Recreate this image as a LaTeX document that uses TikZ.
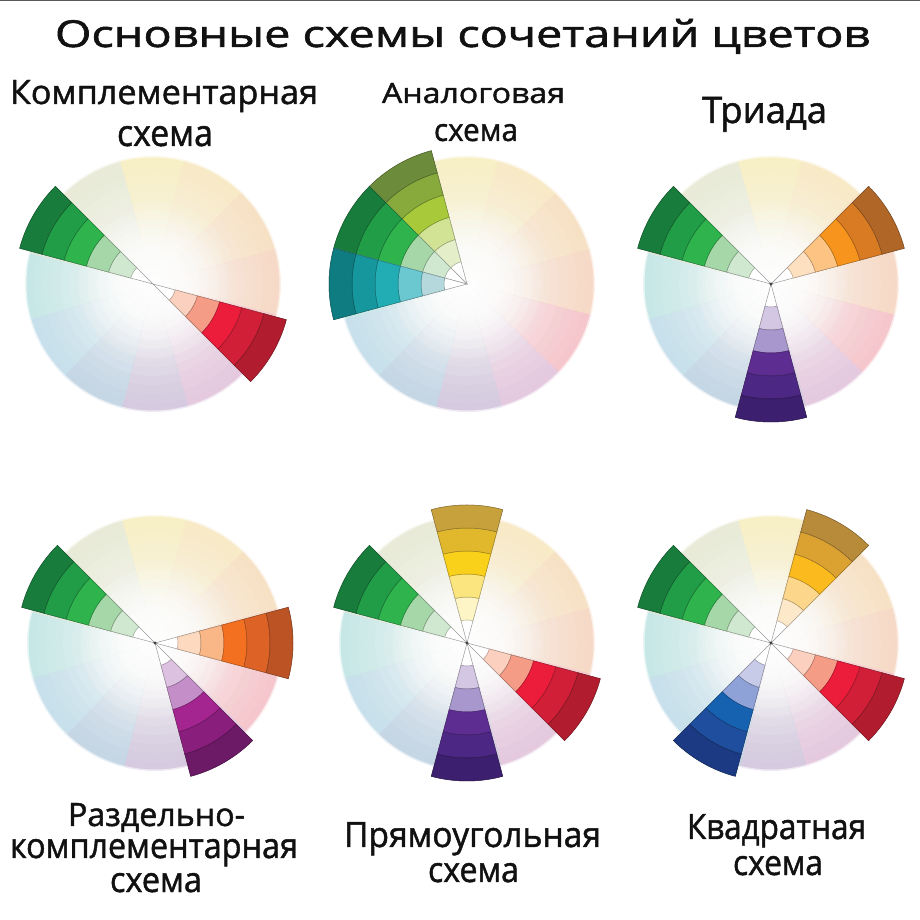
\documentclass[tikz,border=0pt]{standalone}
\usepackage{fontspec}
\setmainfont[FakeBold=1.4]{Open Sans}
\usepackage{graphicx}
\usetikzlibrary{fadings}
\tikzfading[name=glow, inner color=transparent!0, outer color=transparent!100]
% background hues
\definecolor{bgb}{HTML}{F7F7F5}
\definecolor{byel}{HTML}{F9D21C}
\definecolor{byor}{HTML}{FBBB1E}
\definecolor{bora}{HTML}{F7941D}
\definecolor{breo}{HTML}{F26F24}
\definecolor{bred}{HTML}{EE1C3A}
\definecolor{bmag}{HTML}{A3248F}
\definecolor{bvio}{HTML}{5B2D91}
\definecolor{bblu}{HTML}{1560AE}
\definecolor{bcya}{HTML}{1B8FC7}
\definecolor{btea}{HTML}{1FB0B4}
\definecolor{bgrn}{HTML}{7FAE7F}
\definecolor{bygr}{HTML}{B5C070}
% wedge palettes (inner -> outer)
\definecolor{grna}{HTML}{CFE8CF}\definecolor{grnb}{HTML}{A6D7A8}\definecolor{grnc}{HTML}{2FB34C}\definecolor{grnd}{HTML}{219C47}\definecolor{grne}{HTML}{187C3C}
\definecolor{reda}{HTML}{FBD0BF}\definecolor{redb}{HTML}{F59C87}\definecolor{redc}{HTML}{EC1C3B}\definecolor{redd}{HTML}{D11F37}\definecolor{rede}{HTML}{B11D2E}
\definecolor{ygra}{HTML}{E4EEC9}\definecolor{ygrb}{HTML}{D3E396}\definecolor{ygrc}{HTML}{A8C93A}\definecolor{ygrd}{HTML}{88A93B}\definecolor{ygre}{HTML}{6C8B3B}
\definecolor{teaa}{HTML}{B4D8DC}\definecolor{teab}{HTML}{6BC8D0}\definecolor{teac}{HTML}{21ADB3}\definecolor{tead}{HTML}{16969D}\definecolor{teae}{HTML}{0E7C80}
\definecolor{oraa}{HTML}{FDE0C0}\definecolor{orab}{HTML}{FCC383}\definecolor{orac}{HTML}{F7941D}\definecolor{orad}{HTML}{D87B23}\definecolor{orae}{HTML}{B06627}
\definecolor{vioa}{HTML}{D3C7E4}\definecolor{viob}{HTML}{A797CC}\definecolor{vioc}{HTML}{5E2D92}\definecolor{viod}{HTML}{4D2784}\definecolor{vioe}{HTML}{3D1F6F}
\definecolor{reoa}{HTML}{FCD9BF}\definecolor{reob}{HTML}{F9B787}\definecolor{reoc}{HTML}{F47021}\definecolor{reod}{HTML}{DC6226}\definecolor{reoe}{HTML}{BB5324}
\definecolor{maga}{HTML}{DCC2E0}\definecolor{magb}{HTML}{C48EC8}\definecolor{magc}{HTML}{A4258F}\definecolor{magd}{HTML}{8A1E7D}\definecolor{mage}{HTML}{6C1966}
\definecolor{yela}{HTML}{FDF5C6}\definecolor{yelb}{HTML}{FBE57F}\definecolor{yelc}{HTML}{F9D11A}\definecolor{yeld}{HTML}{E1B82C}\definecolor{yele}{HTML}{C7A23C}
\definecolor{yora}{HTML}{FDE9C9}\definecolor{yorb}{HTML}{FCD68A}\definecolor{yorc}{HTML}{FBBB1E}\definecolor{yord}{HTML}{DBA232}\definecolor{yore}{HTML}{B78B3A}
\definecolor{blua}{HTML}{C8CBE7}\definecolor{blub}{HTML}{8EA2D8}\definecolor{bluc}{HTML}{1762B0}\definecolor{blud}{HTML}{1E4E9D}\definecolor{blue}{HTML}{1B3A83}
\definecolor{ink}{HTML}{111111}

\newcommand\cwband[4]{%
  \filldraw[fill=#4, draw=#4!70!black, line width=0.5]
    (#1:#2) arc[start angle=#1, end angle=#1+30, radius=#2]
    -- (#1+30:#3) arc[start angle=#1+30, end angle=#1, radius=#3] -- cycle;}
\newcommand\colorwedge[2]{%
  \filldraw[fill=white, draw=black!40, line width=0.5]
    (0,0) -- (#1:138) arc[start angle=#1, end angle=#1+30, radius=138] -- cycle;
  \cwband{#1}{23}{46}{#2a}\cwband{#1}{46}{69}{#2b}\cwband{#1}{69}{92}{#2c}%
  \cwband{#1}{92}{115}{#2d}\cwband{#1}{115}{138}{#2e}}
\newcommand\bgwheel{%
  \foreach \ang/\col in {90/byel,60/byor,30/bora,0/breo,-30/bred,-60/bmag,-90/bvio,-120/bblu,-150/bcya,180/btea,150/bgrn,120/bygr}{%
    \foreach \r/\t in {128/22,119/21,110/19.5,101/18,92/16,83/14,74/11.5,65/9,56/6.5,47/4,38/2}{%
      \fill[\col!\t!bgb] (0,0) -- (\ang-15:\r) arc[start angle=\ang-15, end angle=\ang+16, radius=\r] -- cycle;}}
  \fill[white, path fading=glow] (0,0) circle (80);
  \draw[white, line width=3, opacity=0.6] (0,0) circle (128);}
\newcommand\apexdot{\fill[black!75] (0,0) circle (1.6);}

\begin{document}
\begin{tikzpicture}[x=1pt,y=1pt,
  lbl/.style={anchor=base, inner sep=0pt, text=ink}]
\useasboundingbox (0,0) rectangle (920,920);
\fill[white] (0,0) rectangle (920,920);
\fill[black!65] (0,918.6) rectangle (920,920);

\coordinate (w1) at (153,636);
\coordinate (w2) at (467,636);
\coordinate (w3) at (771,636);
\coordinate (w4) at (155,277);
\coordinate (w5) at (467,277);
\coordinate (w6) at (771,277);

% 1 complementary
\begin{scope}[shift={(w1)}]
  \bgwheel
  \colorwedge{135}{grn}\colorwedge{315}{red}
\end{scope}
% 2 analogous
\begin{scope}[shift={(w2)}]
  \bgwheel
  \colorwedge{105}{ygr}\colorwedge{135}{grn}\colorwedge{165}{tea}
\end{scope}
% 3 triad
\begin{scope}[shift={(w3)}]
  \bgwheel
  \colorwedge{135}{grn}\colorwedge{15}{ora}\colorwedge{255}{vio}\apexdot
\end{scope}
% 4 split complementary
\begin{scope}[shift={(w4)}]
  \bgwheel
  \colorwedge{135}{grn}\colorwedge{345}{reo}\colorwedge{285}{mag}\apexdot
\end{scope}
% 5 rectangle
\begin{scope}[shift={(w5)}]
  \bgwheel
  \colorwedge{135}{grn}\colorwedge{75}{yel}\colorwedge{315}{red}\colorwedge{255}{vio}\apexdot
\end{scope}
% 6 square
\begin{scope}[shift={(w6)}]
  \bgwheel
  \colorwedge{135}{grn}\colorwedge{45}{yor}\colorwedge{315}{red}\colorwedge{225}{blu}\apexdot
\end{scope}

% texts
\node[lbl] (title) at (462.5,873) {\resizebox{815pt}{28pt}{Основные схемы сочетаний цветов}};
\node[lbl] (t1a) at (164,816) {\resizebox{308pt}{24pt}{Комплементарная}};
\node[lbl] (t1b) at (165,774) {\resizebox{96pt}{20pt}{схема}};
\node[lbl] (t2a) at (473.5,817) {\resizebox{183pt}{20pt}{Аналоговая}};
\node[lbl] (t2b) at (476,779) {\resizebox{84pt}{17pt}{схема}};
\node[lbl] (t3) at (764.5,797) {\resizebox{125pt}{26pt}{Триада}};
\node[lbl] (t4a) at (156.5,94) {\resizebox{177pt}{23pt}{Раздельно-}};
\node[lbl] (t4b) at (154,62) {\resizebox{288pt}{19pt}{комплементарная}};
\node[lbl] (t4c) at (156,28) {\resizebox{92pt}{19pt}{схема}};
\node[lbl] (t5a) at (472.5,73) {\resizebox{257pt}{25pt}{Прямоугольная}};
\node[lbl] (t5b) at (473.5,38) {\resizebox{91pt}{19pt}{схема}};
\node[lbl] (t6a) at (776.5,81) {\resizebox{179pt}{25pt}{Квадратная}};
\node[lbl] (t6b) at (778,45) {\resizebox{90pt}{19pt}{схема}};
\end{tikzpicture}
\end{document}
